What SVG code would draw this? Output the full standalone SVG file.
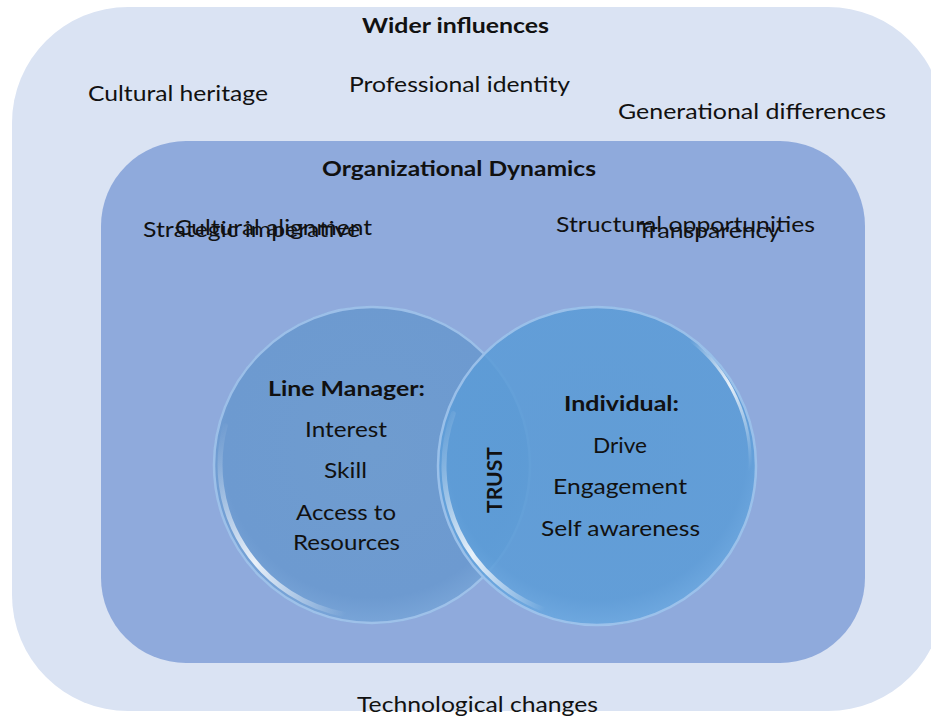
<svg xmlns="http://www.w3.org/2000/svg" width="931" height="720" viewBox="0 0 931 720">
<defs>
<style>
text{font-family:Lato,"Open Sans","Liberation Sans",sans-serif;font-size:21px;fill:#111;}
.b{font-weight:bold;}
.rim{fill:none;stroke:#a8c8ee;stroke-width:2.5;stroke-opacity:0.8;}
.hl{fill:none;stroke:url(#hlg);stroke-width:5;stroke-linecap:round;}
</style>
<linearGradient id="hlg" x1="0" y1="0" x2="1" y2="1">
<stop offset="0" stop-color="#ffffff" stop-opacity="0"/>
<stop offset="0.5" stop-color="#ffffff" stop-opacity="0.85"/>
<stop offset="1" stop-color="#ffffff" stop-opacity="0"/>
</linearGradient>
<radialGradient id="lg" cx="0.5" cy="0.45" r="0.55">
<stop offset="0" stop-color="#6f9ccf"/>
<stop offset="0.85" stop-color="#6d9ad0"/>
<stop offset="1" stop-color="#79a5d8"/>
</radialGradient>
<radialGradient id="rg" cx="0.5" cy="0.45" r="0.55">
<stop offset="0" stop-color="#5b9bd5"/>
<stop offset="0.85" stop-color="#5c9cd7"/>
<stop offset="1" stop-color="#6aa8e0"/>
</radialGradient>
</defs>

<g id="wider-influences">
<rect x="12" y="7" width="932" height="704" rx="116" ry="116" fill="#dae3f3"/>
<text class="b" x="362" y="33" textLength="187" lengthAdjust="spacingAndGlyphs">Wider influences</text>
<text x="88" y="101" textLength="180" lengthAdjust="spacingAndGlyphs">Cultural heritage</text>
<text x="349" y="92" textLength="221" lengthAdjust="spacingAndGlyphs">Professional identity</text>
<text x="618" y="119" textLength="268" lengthAdjust="spacingAndGlyphs">Generational differences</text>
<text x="357" y="712" textLength="241" lengthAdjust="spacingAndGlyphs">Technological changes</text>
</g>

<g id="organizational-dynamics">
<rect x="101" y="141" width="764" height="522" rx="85" ry="85" fill="#8faadc"/>
<text class="b" x="322" y="176" textLength="274" lengthAdjust="spacingAndGlyphs">Organizational Dynamics</text>
<text x="143" y="237" textLength="217" lengthAdjust="spacingAndGlyphs">Strategic imperative</text>
<text x="175" y="235" textLength="197" lengthAdjust="spacingAndGlyphs">Cultural alignment</text>
<text x="556" y="232" textLength="259" lengthAdjust="spacingAndGlyphs">Structural opportunities</text>
<text x="637" y="238" textLength="143" lengthAdjust="spacingAndGlyphs">Transparency</text>
</g>

<g id="line-manager">
<circle cx="372" cy="465" r="159" fill="url(#lg)"/>
<circle class="rim" cx="372" cy="465" r="158"/>
<path class="hl" d="M345.6,614.7 A152,152 0 0 1 225.2,425.7"/>
<text class="b" x="268" y="396" textLength="157" lengthAdjust="spacingAndGlyphs">Line Manager:</text>
<text x="305" y="437" textLength="82" lengthAdjust="spacingAndGlyphs">Interest</text>
<text x="324" y="478" textLength="43" lengthAdjust="spacingAndGlyphs">Skill</text>
<text x="296" y="520" textLength="100" lengthAdjust="spacingAndGlyphs">Access to</text>
<text x="293" y="550" textLength="107" lengthAdjust="spacingAndGlyphs">Resources</text>
</g>

<g id="individual">
<circle cx="597" cy="466" r="160" fill="url(#rg)" fill-opacity="0.88"/>
<circle class="rim" cx="597" cy="466" r="159"/>
<path class="hl" d="M544.7,609.8 A153,153 0 0 1 453.2,413.7"/>
<path class="hl" style="stroke-width:3" d="M690,340 A153,153 0 0 1 750,470"/>
<text class="b" x="564" y="411" textLength="115" lengthAdjust="spacingAndGlyphs">Individual:</text>
<text x="593" y="453" textLength="54" lengthAdjust="spacingAndGlyphs">Drive</text>
<text x="553" y="494" textLength="134" lengthAdjust="spacingAndGlyphs">Engagement</text>
<text x="541" y="536" textLength="159" lengthAdjust="spacingAndGlyphs">Self awareness</text>
</g>

<g id="trust">
<text class="b" transform="translate(502,513) rotate(-90)" x="0" y="0" textLength="66" lengthAdjust="spacingAndGlyphs">TRUST</text>
</g>

<g id="connectors"></g>
</svg>
